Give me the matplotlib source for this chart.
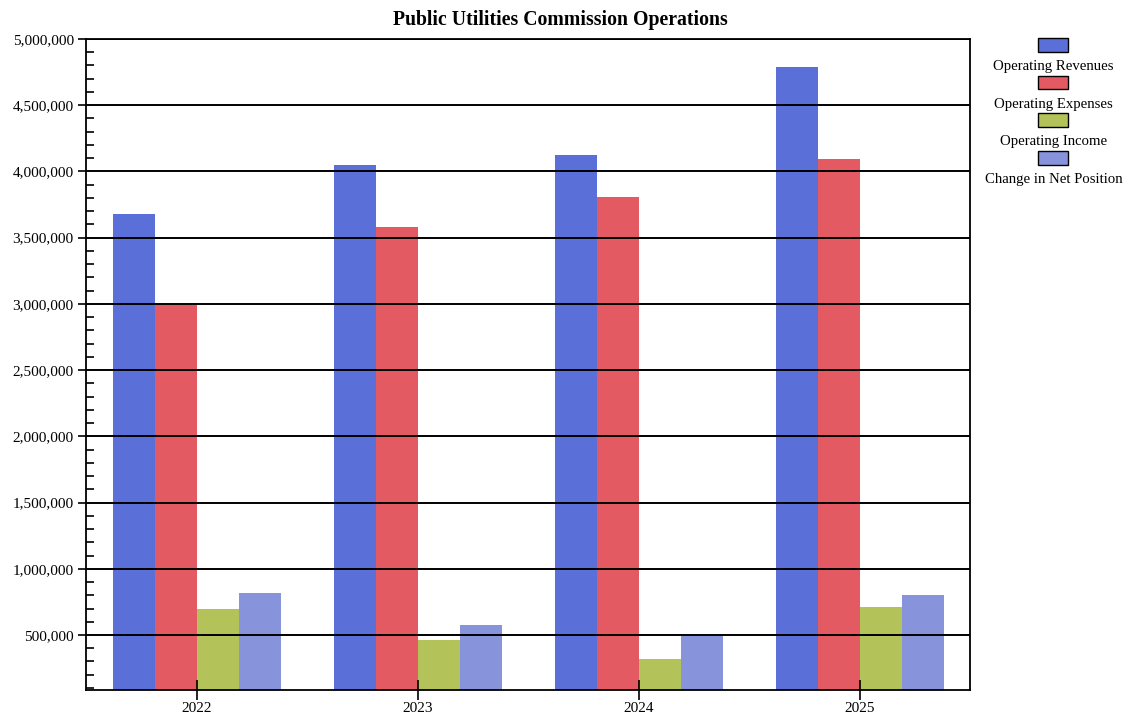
import numpy as np
import matplotlib.pyplot as plt
from matplotlib.patches import Rectangle
from matplotlib.ticker import MultipleLocator, FuncFormatter

plt.rcParams['font.family'] = ['Liberation Serif', 'DejaVu Serif']

years = ["2022", "2023", "2024", "2025"]
series_names = ["Operating Revenues", "Operating Expenses",
                "Operating Income", "Change in Net Position"]
revenues = [3680000, 4050000, 4125000, 4790000]
expenses = [2995000, 3580000, 3808000, 4095000]
op_income = [696000, 462000, 318000, 711000]
net_position = [817000, 575000, 490000, 802000]
colors = ["#5a70d8", "#e45a62", "#b3c35a", "#8794dc"]

series = [revenues, expenses, op_income, net_position]

fig = plt.figure(figsize=(11.28, 7.17), dpi=100)
ax = fig.add_axes([0.0765, 0.0377, 0.7835, 0.908])

x = np.arange(len(years))
w = 0.19
for i, vals in enumerate(series):
    ax.bar(x + (i - 1.5) * w, vals, width=w, color=colors[i], zorder=1)

ax.set_xlim(-0.5, len(years) - 0.5)
ax.set_ylim(85000, 5000000)
ax.yaxis.set_major_locator(MultipleLocator(500000))
ax.yaxis.set_minor_locator(MultipleLocator(100000))
ax.yaxis.set_major_formatter(FuncFormatter(lambda v, p: f"{int(v):,}"))
ax.set_xticks(x)
ax.set_xticklabels(years)

ax.grid(axis='y', which='major', color='black', linewidth=1.4, zorder=2)
ax.set_axisbelow(False)

ax.tick_params(axis='y', which='major', direction='out', length=6, width=1.2,
               labelsize=11, pad=3)
ax.tick_params(axis='y', which='minor', direction='in', length=6, width=1.2)
ax.tick_params(axis='x', direction='inout', length=14, width=1.2,
               labelsize=11, pad=2)
for s in ax.spines.values():
    s.set_linewidth(1.3)

fig.text(0.4965, 0.972, "Public Utilities Commission Operations",
         ha='center', va='center', fontsize=14.2, fontweight='bold')

# legend: swatch above each label
for i, name in enumerate(series_names):
    y_top = 0.947 - i * 0.0525
    fig.patches.append(Rectangle((0.9205, y_top - 0.019), 0.0265, 0.019,
                                 transform=fig.transFigure,
                                 facecolor=colors[i], edgecolor='black',
                                 linewidth=1.0))
    fig.text(0.934, y_top - 0.040, name, ha='center', va='center',
             fontsize=10.6)

fig.savefig("out.png", dpi=100)
